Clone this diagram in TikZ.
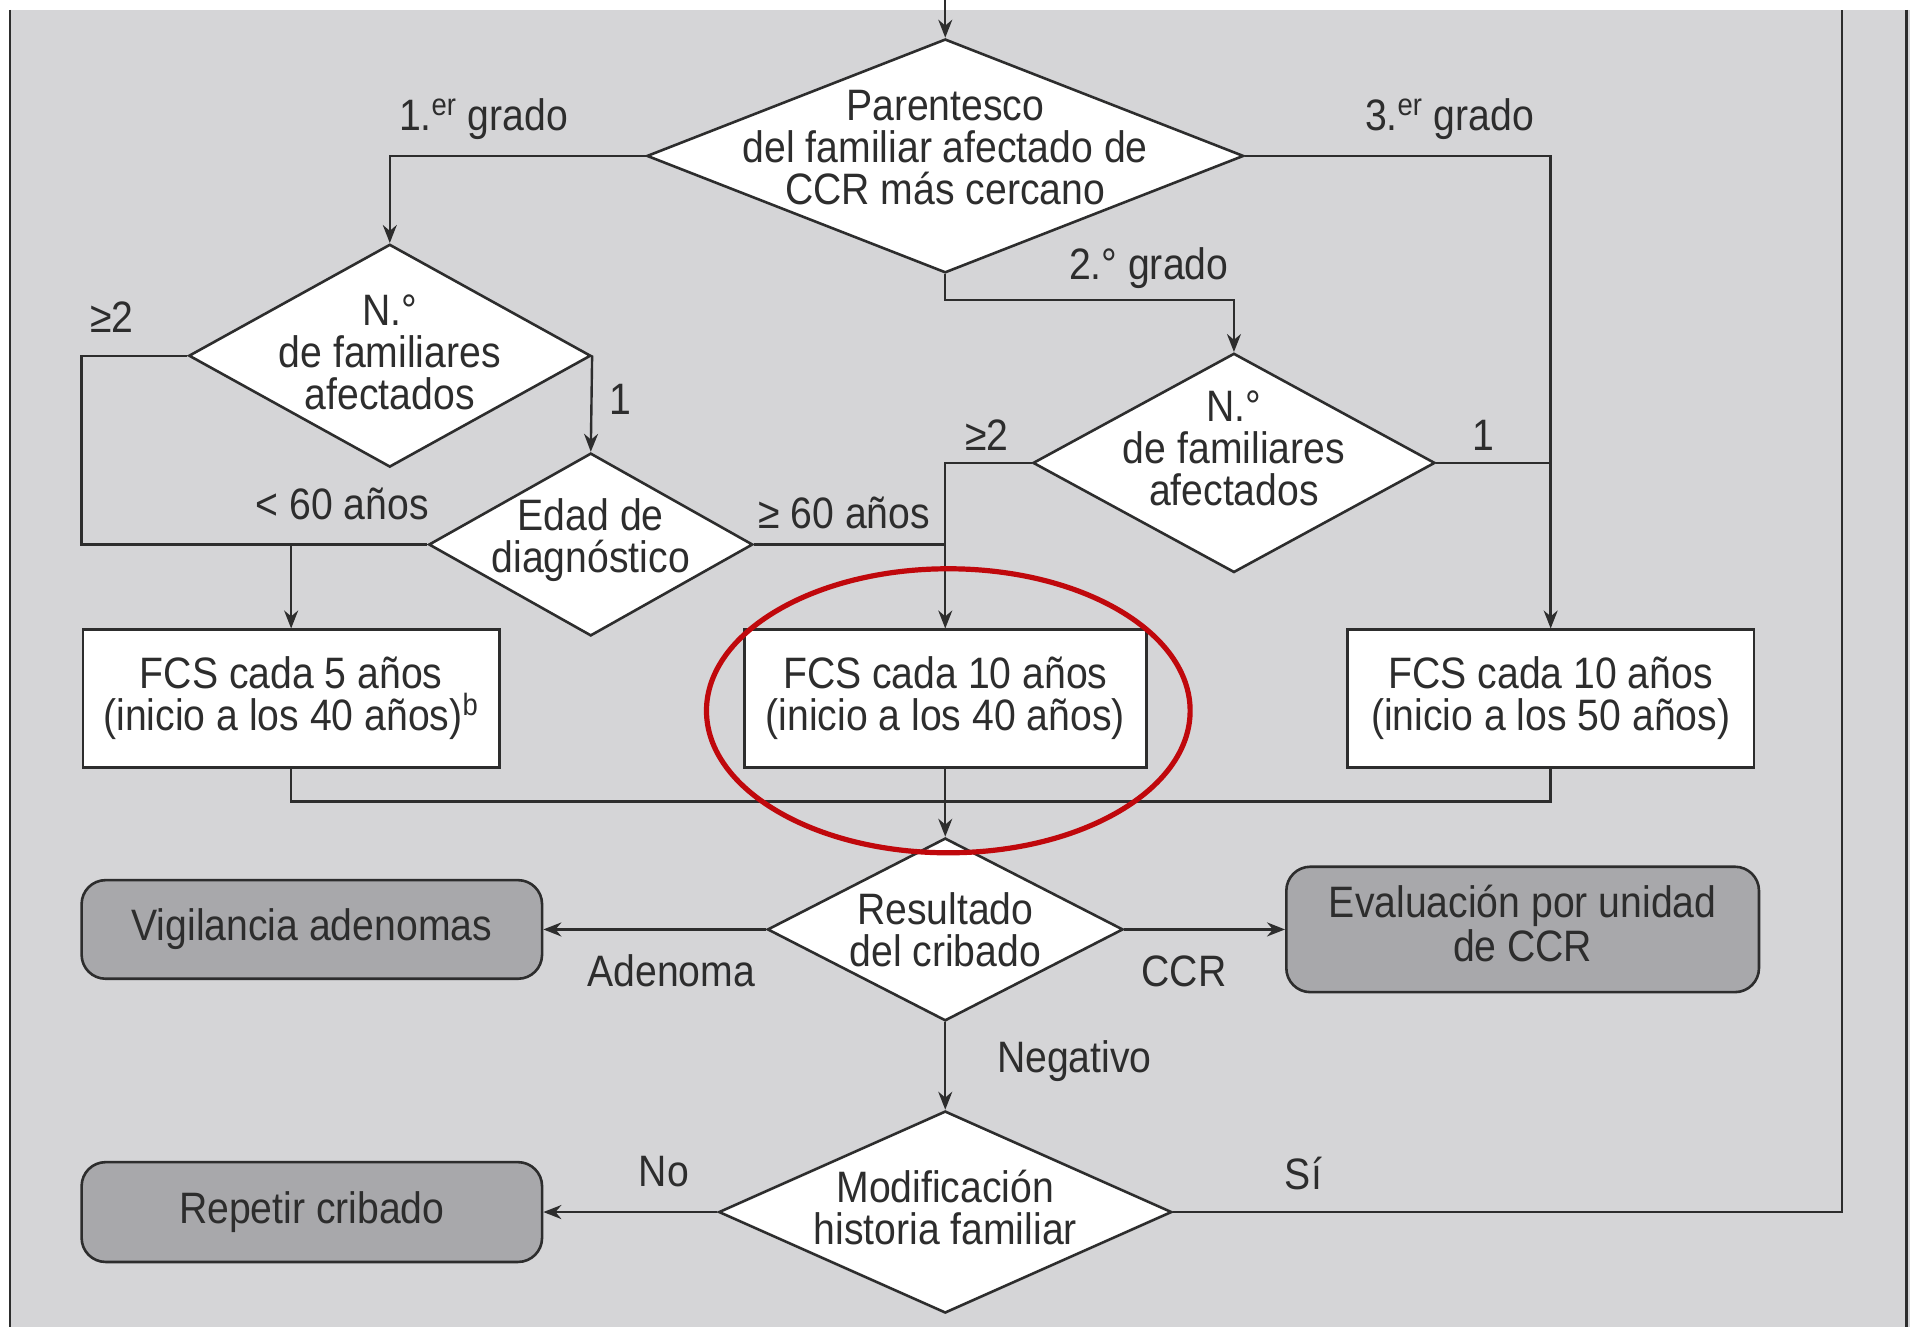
\documentclass[tikz,border=0pt]{standalone}
\usepackage{fontspec}
\setmainfont{Liberation Sans}[FakeStretch=0.89]
\usetikzlibrary{shapes.geometric,arrows.meta,calc}
\definecolor{bg}{RGB}{213,213,215}
\definecolor{boxgray}{RGB}{168,168,171}
\definecolor{ink}{RGB}{45,45,45}
\definecolor{ringred}{RGB}{192,8,12}
\begin{document}
\begin{tikzpicture}[x=0.609pt,y=-0.609pt,
  font=\fontsize{22}{21}\selectfont,
  dia/.style={diamond, draw=ink, fill=white, line width=1.3pt, inner sep=0pt},
  dtext/.style={align=center, text=ink, inner sep=0pt},
  rbox/.style={rectangle, draw=ink, fill=white, line width=1.3pt, inner sep=0pt, align=center, text=ink},
  gbox/.style={rectangle, rounded corners=12pt, draw=ink, fill=boxgray, line width=1.3pt, inner sep=0pt, align=center, text=ink},
  conn/.style={draw=ink, line width=1.2pt},
  arr/.style={conn, -{Stealth[length=9pt,width=7pt]}},
  lbl/.style={text=ink, inner sep=0pt}
]
\useasboundingbox (0,0) rectangle (1568,1089);
% background
\fill[bg] (8,8) rectangle (1568,1089);
\draw[ink, line width=1.2pt] (8,8) -- (8,1089);
\draw[ink, line width=1.2pt] (1565,8) -- (1565,1089);

% diamonds
\node[dia, minimum width=298.4pt, minimum height=116.9pt,
  label={[dtext, yshift=4.3pt]center:{Parentesco\\del familiar afectado de\\CCR más cercano}}] (d1) at (776,128) {};
\node[dia, minimum width=201pt, minimum height=111.4pt,
  label={[dtext, yshift=1.5pt]center:{N.°\\de familiares\\afectados}}] (d2) at (320,292) {};
\node[dia, minimum width=162pt, minimum height=91.4pt,
  label={[dtext, yshift=2pt]center:{Edad de\\diagnóstico}}] (dE) at (485,447) {};
\node[dia, minimum width=201pt, minimum height=109.6pt,
  label={[dtext, yshift=7.5pt]center:{N.°\\de familiares\\afectados}}] (d3) at (1013,380) {};
\node[dia, minimum width=177.8pt, minimum height=91.4pt,
  label={[dtext]center:{Resultado\\del cribado}}] (dR) at (776,763) {};
\node[dia, minimum width=226.5pt, minimum height=101pt,
  label={[dtext, yshift=2.5pt]center:{Modificación\\historia familiar}}] (dM) at (776,995) {};

% boxes
\node[rbox, minimum width=208.3pt, minimum height=68.8pt] (b1) at (239,573.5)
  {FCS cada 5 años\\(inicio a los 40 años)\textsuperscript{b}};
\node[rbox, minimum width=201pt, minimum height=68.8pt] (b2) at (776,573.5)
  {FCS cada 10 años\\(inicio a los 40 años)};
\node[rbox, minimum width=203.4pt, minimum height=68.8pt] (b3) at (1273,573.5)
  {FCS cada 10 años\\(inicio a los 50 años)};
\node[gbox, minimum width=230.2pt, minimum height=49.3pt] (vig) at (256,763) {\raisebox{1.5pt}{Vigilancia adenomas}};
\node[gbox, minimum width=236.3pt, minimum height=62.7pt] (eva) at (1250,763) {\raisebox{3pt}{\begin{tabular}{@{}c@{}}Evaluación por unidad\\de CCR\end{tabular}}};
\node[gbox, minimum width=230.2pt, minimum height=49.9pt] (rep) at (256,995) {Repetir cribado};

% coordinates
\coordinate (top) at (776,0);
\coordinate (loopTop) at (1512,8);

% connectors
\draw[arr] (top) -- (d1.north);
\draw[arr] (d1.west) -| (d2.north);
\draw[arr] (d1.east) -| (b3.north);
\draw[arr] (d1.south) -- ++(0,21) -| (d3.north);
\draw[arr] (d2.east) -- (dE.north);
\draw[conn] (d2.west) -- ++(-87,0) |- (dE.west);
\draw[arr] (dE.west -| b1.north) -- (b1.north);
\draw[arr] (d3.west) -| (b2.north);
\draw[conn] (dE.east) -- (dE.east -| b2.north);
\draw[conn] (d3.east) -- (d3.east -| b3.north);
\draw[conn] (b1.south) -- ++(0,27) -| (b3.south);
\draw[arr] (b2.south) -- (dR.north);
\draw[arr] (dR.west) -- (vig.east);
\draw[arr] (dR.east) -- (eva.west);
\draw[arr] (dR.south) -- (dM.north);
\draw[arr] (dM.west) -- (rep.east);
\draw[conn] (dM.east) -| (loopTop);

% labels
\node[lbl] (l1) at (397,98) {1.\textsuperscript{er} grado};
\node[lbl] (l3) at (1190,98) {3.\textsuperscript{er} grado};
\node[lbl] (l2) at (943,220) {2.° grado};
\node[lbl] (lge2a) at (92,260) {≥2};
\node[lbl] (lone1) at (509,328) {1};
\node[lbl] (llt60) at (281,414) {< 60 años};
\node[lbl] (lge60) at (693,421) {≥ 60 años};
\node[lbl] (lge2b) at (810,357) {≥2};
\node[lbl] (lone2) at (1218,357) {1};
\node[lbl] (lade) at (551,797) {Adenoma};
\node[lbl] (lccr) at (972,797) {CCR};
\node[lbl] (lneg) at (882,871) {Negativo};
\node[lbl] (lno) at (545,962) {No};
\node[lbl] (lsi) at (1070,963) {Sí};

% red ring
\draw[ringred, line width=2.6pt] (778.5,583.5) ellipse [x radius=120.9pt, y radius=71pt];
\end{tikzpicture}
\end{document}
